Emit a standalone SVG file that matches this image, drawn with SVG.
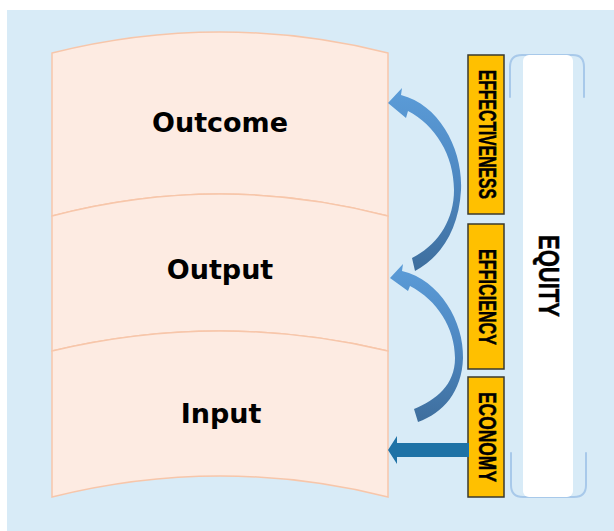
<svg xmlns="http://www.w3.org/2000/svg" width="614" height="531" viewBox="0 0 614 531">
  <style>
    .layer { fill: #FDEBE2; stroke: #F7C6AA; stroke-width: 1.5; }
    .layer-label { font-family: "DejaVu Sans", "Liberation Sans", sans-serif; font-weight: bold; font-size: 27px; fill: #000; text-anchor: middle; }
    .measure { fill: #FFC000; stroke: #3A3A2E; stroke-width: 1.5; }
    .measure-label { font-family: "Liberation Sans", Arial, sans-serif; font-weight: bold; font-size: 23px; fill: #000; stroke: #000; stroke-width: 0.5; }
    .bracket { fill: none; stroke: #A8C9EA; stroke-width: 2; stroke-linecap: round; }
    .curve-arrow { fill: url(#arrowShade); }
  </style>
  <defs>
    <linearGradient id="arrowShade" x1="0" y1="0" x2="0" y2="1">
      <stop offset="0" stop-color="#5B9CD8"/>
      <stop offset="0.5" stop-color="#4E88C2"/>
      <stop offset="1" stop-color="#3E6E9D"/>
    </linearGradient>
  </defs>

  <!-- backdrop -->
  <rect x="0" y="0" width="614" height="531" fill="#FFFFFF"/>
  <rect x="7" y="10" width="607" height="521" fill="#D8EBF7"/>

  <!-- stacked layers -->
  <g id="outcome">
    <path class="layer" d="M52,53 Q220,11 388,53 L388,216 Q220,172 52,216 Z"/>
    <text class="layer-label" x="220" y="132">Outcome</text>
  </g>
  <g id="output">
    <path class="layer" d="M52,216 Q220,172 388,216 L388,351 Q220,311 52,351 Z"/>
    <text class="layer-label" x="220" y="279">Output</text>
  </g>
  <g id="input">
    <path class="layer" d="M52,351 Q220,311 388,351 L388,497 Q220,455 52,497 Z"/>
    <text class="layer-label" x="221" y="423">Input</text>
  </g>

  <!-- measures -->
  <g id="effectiveness">
    <rect class="measure" x="468" y="55" width="36" height="159"/>
    <text class="measure-label" transform="translate(479,70) rotate(90)" x="0" y="0" textLength="129" lengthAdjust="spacingAndGlyphs">EFFECTIVENESS</text>
  </g>
  <g id="efficiency">
    <rect class="measure" x="468" y="224" width="36" height="145"/>
    <text class="measure-label" transform="translate(479,249) rotate(90)" x="0" y="0" textLength="96" lengthAdjust="spacingAndGlyphs">EFFICIENCY</text>
  </g>
  <g id="economy">
    <rect class="measure" x="468" y="377" width="36" height="120"/>
    <text class="measure-label" transform="translate(479,392) rotate(90)" x="0" y="0" textLength="90" lengthAdjust="spacingAndGlyphs">ECONOMY</text>
  </g>

  <!-- equity column -->
  <g id="equity">
    <path class="bracket" d="M510,97 L510,67 Q510,55 522,55 L573,55 Q584,55 584,67 L584,97"/>
    <path class="bracket" d="M511,453 L511,485 Q511,497 523,497 L574,497 Q586,497 586,485 L586,453"/>
    <rect x="523" y="55" width="50" height="442" rx="6" fill="#FFFFFF"/>
    <text class="measure-label" style="font-size:29px" transform="translate(539,235) rotate(90)" x="0" y="0" textLength="82" lengthAdjust="spacingAndGlyphs">EQUITY</text>
  </g>

  <!-- connectors -->
  <g id="connectors">
    <path class="curve-arrow" d="M388,103 L402,88 L401,95 C440,105 463,150 461,190 C459,230 440,258 415,271 L412,258 C438,245 454,220 454,190 C454,155 435,125 408,111 L406,118 Z"/>
    <path class="curve-arrow" d="M390,278 L403,264 L402,271 C440,280 464,322 463,358 C462,392 443,413 418,422 L414,409 C436,400 455,385 455,358 C455,328 437,300 410,286 L408,291 Z"/>
    <path d="M388,450 L397,436 L397,443 L469,443 L469,457 L397,457 L397,464 Z" fill="#1E72A6"/>
  </g>
</svg>
